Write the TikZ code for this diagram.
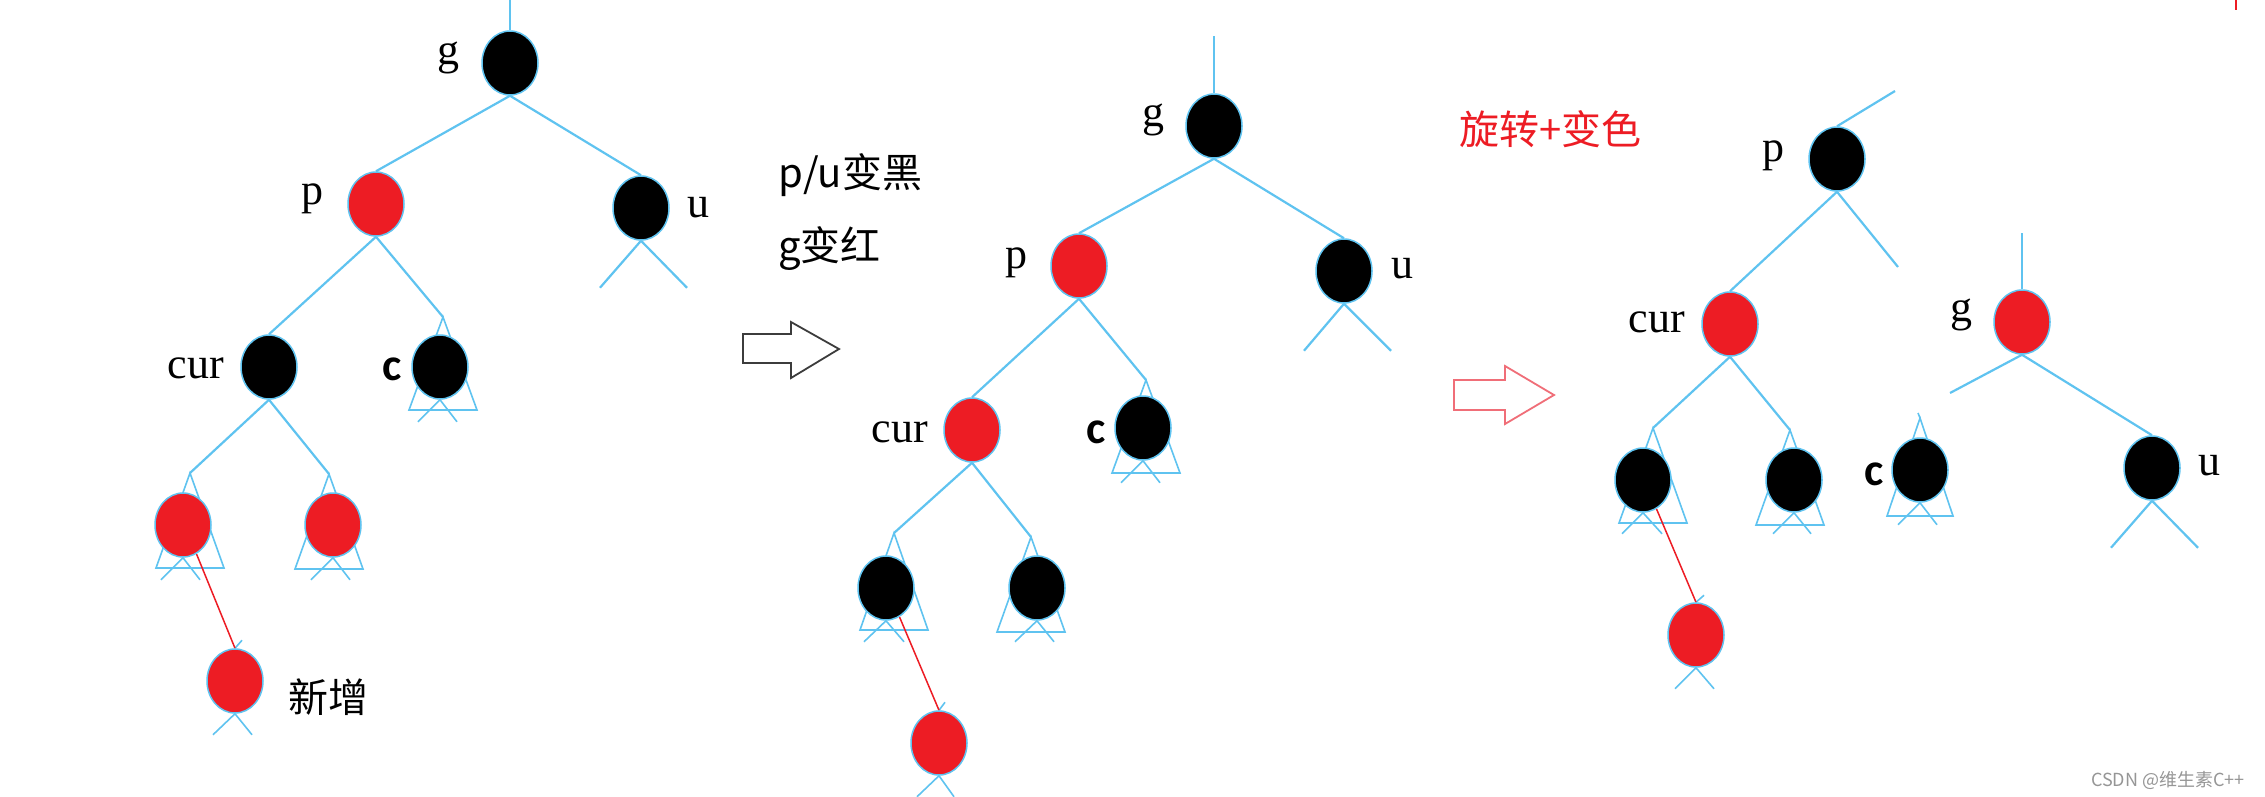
\documentclass[tikz,border=0pt]{standalone}
\usepackage{fontspec}
\setmainfont{Liberation Serif}
\newfontfamily\cjkfam{Noto Sans CJK SC}
\newfontfamily\cfam{Carlito}
\usetikzlibrary{shapes.geometric,backgrounds}
\definecolor{nodered}{RGB}{237,28,36}
\definecolor{edgeblue}{RGB}{95,195,240}
\definecolor{arrowred}{RGB}{240,110,120}
\definecolor{arrowgray}{RGB}{60,60,60}
\definecolor{markgray}{RGB}{150,150,150}
\newcommand\lblfont{\fontsize{44}{50}\selectfont}
\newcommand\clblfont{\cfam\bfseries\fontsize{46}{52}\selectfont}
\newcommand\cjkfont{\cjkfam\fontsize{40}{48}\selectfont}
\newcommand\wmfont{\cjkfam\fontsize{18}{22}\selectfont}
\tikzset{
  rbnode/.style={ellipse, minimum width=56pt, minimum height=64pt, inner sep=0pt, draw=edgeblue, line width=1.5pt},
  rednode/.style={rbnode, fill=nodered},
  blknode/.style={rbnode, fill=black},
  edge/.style={draw=edgeblue, line width=2.2pt},
  tri/.style={draw=edgeblue, line width=1.6pt, line join=miter},
  newedge/.style={draw=nodered, line width=1.5pt},
  lbl/.style={font=\lblfont, inner sep=0pt, anchor=base},
  clbl/.style={font=\clblfont, inner sep=0pt, anchor=base},
  cjk/.style={font=\cjkfont, inner sep=0pt, anchor=base west},
  hollow/.style={line width=1.8pt, line join=miter, fill=white}
}
\begin{document}
\begin{tikzpicture}[x=1pt,y=-1pt]
\useasboundingbox (0,0) rectangle (2265,796);
\begin{pgfonlayer}{background}
\fill[white] (0,0) rectangle (2265,796);
\end{pgfonlayer}

% ---------- Tree 1 ----------
\node[blknode] (g1) at (510,63) {};
\node[rednode] (p1) at (376,204) {};
\node[blknode] (u1) at (641,208) {};
\node[blknode] (cur1) at (269,367) {};
\node[blknode] (c1) at (440,367) {};
\node[rednode] (l1) at (183,525) {};
\node[rednode] (r1) at (333,525) {};
\node[rednode] (n1) at (235,681) {};
\node[lbl] (lg1) at (448,64) {g};
\node[lbl] (lp1) at (312,204) {p};
\node[lbl] (lu1) at (698,217) {u};
\node[lbl] (lcur1) at (196,378) {cur};
\node[clbl] (lc1) at (392,380) {c};
\node[cjk] (tn1) at (288,712) {新增};
\coordinate (t1) at (510,0);
\coordinate (ac1) at (443,317);
\coordinate (al1) at (190,473);
\coordinate (ar1) at (329,474);

% ---------- Tree 2 ----------
\node[blknode] (g2) at (1214,126) {};
\node[rednode] (p2) at (1079,266) {};
\node[blknode] (u2) at (1344,271) {};
\node[rednode] (cur2) at (972,430) {};
\node[blknode] (c2) at (1143,428) {};
\node[blknode] (l2) at (886,588) {};
\node[blknode] (r2) at (1037,588) {};
\node[rednode] (n2) at (939,743) {};
\node[lbl] (lg2) at (1153,126) {g};
\node[lbl] (lp2) at (1016,268) {p};
\node[lbl] (lu2) at (1402,278) {u};
\node[lbl] (lcur2) at (900,442) {cur};
\node[clbl] (lc2) at (1096,443) {c};
\coordinate (t2) at (1214,36);
\coordinate (ac2) at (1146,380);
\coordinate (al2) at (894,533);
\coordinate (ar2) at (1031,537);

% ---------- Tree 3 ----------
\node[blknode] (p3) at (1837,159) {};
\node[rednode] (cur3) at (1730,324) {};
\node[rednode] (g3) at (2022,322) {};
\node[blknode] (u3) at (2152,468) {};
\node[blknode] (l3) at (1643,480) {};
\node[blknode] (r3) at (1794,480) {};
\node[blknode] (c3) at (1920,470) {};
\node[rednode] (n3) at (1696,635) {};
\node[lbl] (lp3) at (1773,161) {p};
\node[lbl] (lcur3) at (1657,332) {cur};
\node[lbl] (lg3) at (1961,321) {g};
\node[lbl] (lu3) at (2209,475) {u};
\node[clbl] (lc3) at (1874,485) {c};
\coordinate (t3p) at (1895,91);
\coordinate (p3r) at (1898,267);
\coordinate (t3g) at (2022,233);
\coordinate (g3l) at (1950,393);
\coordinate (al3) at (1653,428);
\coordinate (ar3) at (1790,430);
\coordinate (ac3) at (1920,418);

% ---------- middle texts ----------
\node[cjk] (txt1) at (778,187) {p/u变黑};
\node[cjk] (txt2) at (778,260) {g变红};
\node[cjk, text=nodered] (txt3) at (1459,144) {旋转+变色};
\node[font=\wmfont, text=markgray, inner sep=0pt, anchor=base east] (wm) at (2245,786) {CSDN @维生素C++};

% ---------- arrows ----------
\draw[hollow, draw=arrowgray] (743,334) -- (791,334) -- (791,322) -- (839,349) -- (791,378) -- (791,363) -- (743,363) -- cycle;
\draw[hollow, draw=arrowred] (1454,380) -- (1505,380) -- (1505,366) -- (1554,395) -- (1505,424) -- (1505,410) -- (1454,410) -- cycle;
\draw[nodered, line width=2.5pt] (2236,0) -- (2236,10);

\begin{pgfonlayer}{background}
% tree 1 edges
\draw[edge] (g1.north) -- (t1);
\draw[edge] (g1.south) -- (p1.north);
\draw[edge] (g1.south) -- (u1.north);
\draw[edge] (p1.south) -- (cur1.north);
\draw[edge] (p1.south) -- (ac1);
\draw[edge] (cur1.south) -- (al1);
\draw[edge] (cur1.south) -- (ar1);
\draw[edge] (u1.south) -- ++(-41,47) (u1.south) -- ++(46,47);
\draw[tri] (ac1) -- ++(-34,93) -- ++(68,0) -- cycle;
\draw[tri] (al1) -- ++(-34,95) -- ++(68,0) -- cycle;
\draw[tri] (ar1) -- ++(-34,95) -- ++(68,0) -- cycle;
\draw[tri] (c1.south) -- ++(-22,22) (c1.south) -- ++(17,22);
\draw[tri] (l1.south) -- ++(-22,22) (l1.south) -- ++(17,22);
\draw[tri] (r1.south) -- ++(-22,22) (r1.south) -- ++(17,22);
\draw[tri] (n1.south) -- ++(-22,21) (n1.south) -- ++(17,21);
\draw[tri] (n1.north) -- ++(7,-8);
% tree 2 edges
\draw[edge] (g2.north) -- (t2);
\draw[edge] (g2.south) -- (p2.north);
\draw[edge] (g2.south) -- (u2.north);
\draw[edge] (p2.south) -- (cur2.north);
\draw[edge] (p2.south) -- (ac2);
\draw[edge] (cur2.south) -- (al2);
\draw[edge] (cur2.south) -- (ar2);
\draw[edge] (u2.south) -- ++(-40,47) (u2.south) -- ++(47,47);
\draw[tri] (ac2) -- ++(-34,93) -- ++(68,0) -- cycle;
\draw[tri] (al2) -- ++(-34,97) -- ++(68,0) -- cycle;
\draw[tri] (ar2) -- ++(-34,95) -- ++(68,0) -- cycle;
\draw[tri] (c2.south) -- ++(-22,22) (c2.south) -- ++(17,22);
\draw[tri] (l2.south) -- ++(-22,21) (l2.south) -- ++(18,21);
\draw[tri] (r2.south) -- ++(-22,21) (r2.south) -- ++(17,21);
\draw[tri] (n2.south) -- ++(-22,21) (n2.south) -- ++(15,21);
\draw[tri] (n2.north) -- ++(6,-8);
% tree 3 edges
\draw[edge] (p3.north) -- (t3p);
\draw[edge] (p3.south) -- (cur3.north);
\draw[edge] (p3.south) -- (p3r);
\draw[edge] (cur3.south) -- (al3);
\draw[edge] (cur3.south) -- (ar3);
\draw[edge] (g3.north) -- (t3g);
\draw[edge] (g3.south) -- (g3l);
\draw[edge] (g3.south) -- (u3.north);
\draw[edge] (u3.south) -- ++(-41,47) (u3.south) -- ++(46,47);
\draw[tri] (al3) -- ++(-34,95) -- ++(68,0) -- cycle;
\draw[tri] (ar3) -- ++(-34,95) -- ++(68,0) -- cycle;
\draw[tri] (ac3) -- ++(-33,98) -- ++(66,0) -- cycle;
\draw[tri] (ac3) -- ++(-2,-5);
\draw[tri] (l3.south) -- ++(-21,21) (l3.south) -- ++(19,21);
\draw[tri] (r3.south) -- ++(-21,21) (r3.south) -- ++(17,21);
\draw[tri] (c3.south) -- ++(-22,22) (c3.south) -- ++(17,22);
\draw[tri] (n3.south) -- ++(-21,21) (n3.south) -- ++(18,21);
\draw[tri] (n3.north) -- ++(8,-7);
% red links to new node
\draw[newedge] (l1.-65) -- (n1.north);
\draw[newedge] (l2.-65) -- (n2.north);
\draw[newedge] (l3.-65) -- (n3.north);
\end{pgfonlayer}
\end{tikzpicture}
\end{document}
